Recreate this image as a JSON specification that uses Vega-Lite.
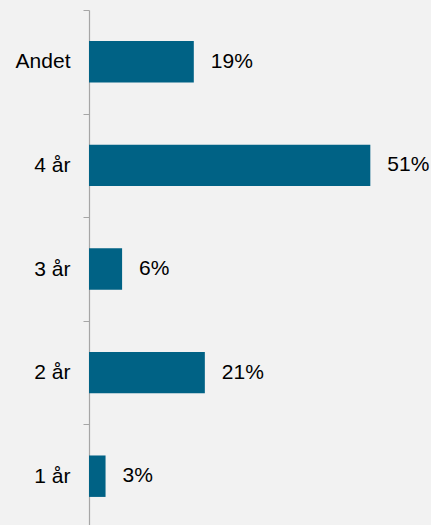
{
  "$schema": "https://vega.github.io/schema/vega-lite/v6.json",
  "width": 342,
  "height": 518,
  "autosize": {"type": "none"},
  "padding": {"left": 89, "top": 10, "right": 0, "bottom": 0},
  "background": "#F2F2F2",
  "config": {"view": {"stroke": null}, "font": "Liberation Sans"},
  "data": {"values": [
    {"kategori": "Andet", "andel": 19, "etiket": "19%"},
    {"kategori": "4 år", "andel": 51, "etiket": "51%"},
    {"kategori": "3 år", "andel": 6, "etiket": "6%"},
    {"kategori": "2 år", "andel": 21, "etiket": "21%"},
    {"kategori": "1 år", "andel": 3, "etiket": "3%"}
  ]},
  "encoding": {
    "y": {
      "field": "kategori", "type": "nominal", "sort": null,
      "scale": {"paddingInner": 0, "paddingOuter": 0},
      "axis": {
        "title": null, "domainColor": "#A6A6A6", "domainWidth": 1.2,
        "tickColor": "#A6A6A6", "tickSize": 6, "tickBand": "extent",
        "labelFontSize": 21, "labelColor": "#000000", "labelPadding": 13,
        "labelFont": "Liberation Sans"
      }
    },
    "x": {
      "field": "andel", "type": "quantitative",
      "scale": {"domain": [0, 62]},
      "axis": null
    }
  },
  "layer": [
    {"mark": {"type": "bar", "color": "#006285", "height": {"band": 0.4}}},
    {
      "mark": {"type": "text", "align": "left", "dx": 17, "fontSize": 21, "color": "#000000", "font": "Liberation Sans"},
      "encoding": {"text": {"field": "etiket", "type": "nominal"}}
    }
  ]
}
